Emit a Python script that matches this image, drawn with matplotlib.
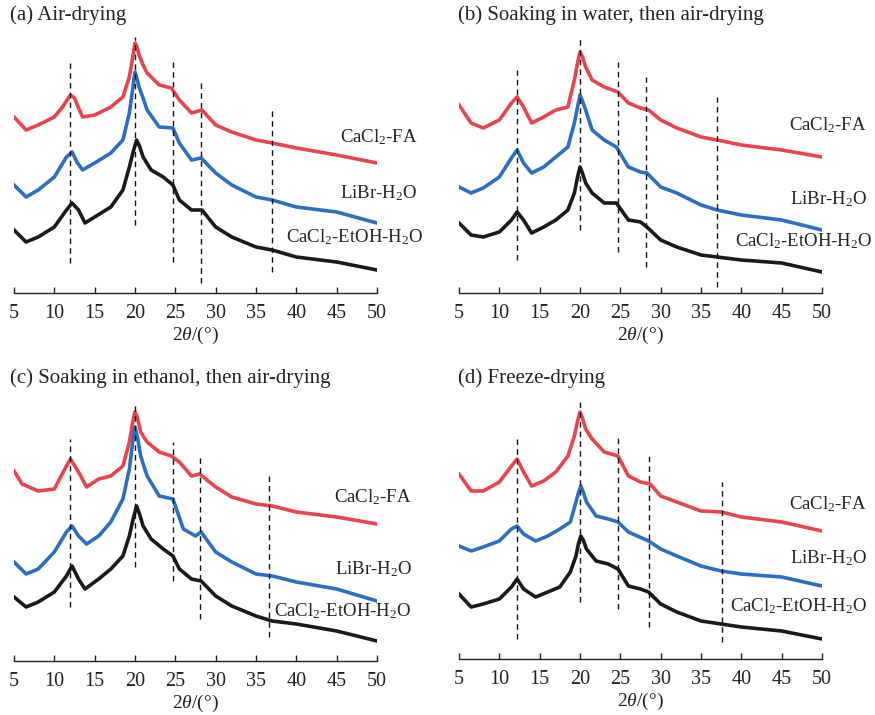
import matplotlib
matplotlib.use("Agg")
import matplotlib.pyplot as plt

plt.rcParams['font.family'] = ['Liberation Serif', 'DejaVu Serif']
plt.rcParams['mathtext.fontset'] = 'custom'
plt.rcParams['mathtext.rm'] = 'Liberation Serif'
plt.rcParams['mathtext.it'] = 'Liberation Serif:italic'

# ---------------- data (intensity, arbitrary units, offset-stacked) ----------------
titles = ["(a) Air-drying", "(b) Soaking in water, then air-drying",
          "(c) Soaking in ethanol, then air-drying", "(d) Freeze-drying"]
series_names = ["CaCl$_2$-FA", "LiBr-H$_2$O", "CaCl$_2$-EtOH-H$_2$O"]
series_colors = ["#E8444F", "#2C6FBF", "#1A1A1A"]
xticks = [5, 10, 15, 20, 25, 30, 35, 40, 45, 50]

# panel (a)
a_x_fa = [5, 6.5, 8, 10, 11, 11.5, 12, 12.5, 13, 13.5, 15, 17, 18.5, 19.3, 19.7, 20, 20.2, 20.5, 21, 21.5, 23, 24.5, 25.5, 27, 28.3, 30, 32, 35, 37, 40, 45, 50]
a_fa = [176, 163, 168, 176, 186, 192, 198, 195, 185, 176, 178, 186, 196, 216, 235, 250, 247, 238, 228, 220, 208, 205, 193, 180, 183, 168, 161, 153, 150, 145, 138, 130]
a_x_li = [5, 6.5, 8, 10, 11.5, 12.2, 12.8, 13.5, 15, 17, 18.5, 19.3, 19.7, 20, 20.2, 20.5, 21, 21.5, 23, 24.7, 25.5, 27, 28.2, 30, 32, 35, 37, 40, 45, 50]
a_li = [108, 96, 103, 116, 136, 141, 131, 123, 130, 140, 153, 180, 203, 221, 216, 206, 195, 183, 166, 165, 150, 133, 135, 120, 108, 96, 93, 86, 81, 70]
a_x_et = [5, 6.5, 8, 10, 11.5, 12.2, 13, 13.8, 15, 17, 18.5, 19.3, 19.8, 20.2, 20.6, 21, 22, 23.5, 24.7, 25.5, 27, 28.3, 30, 32, 35, 37, 40, 45, 50]
a_et = [63, 51, 56, 66, 83, 90, 83, 70, 76, 86, 103, 126, 142, 153, 146, 136, 123, 116, 108, 93, 83, 83, 66, 56, 46, 43, 36, 31, 23]
a_ref_x = [12, 20, 24.7, 28.2, 37]
a_ref_top = [231, 256, 233, 211, 186]
a_ref_bot = [30, 68, 31, 10, 21]
a_lab_x = [55.0, 55.0, 55.7]
a_lab_y = [156, 100, 56]

# panel (b)
b_x_fa = [5, 6.5, 8, 10, 11.5, 12.2, 13, 14, 15.5, 17, 18.5, 19.3, 19.7, 20, 20.3, 20.7, 21.5, 23, 24.7, 26, 27.5, 28.5, 30, 32, 35, 37, 40, 45, 50]
b_fa = [188, 170, 165, 173, 190, 196, 186, 170, 176, 183, 186, 213, 230, 241, 236, 226, 213, 206, 201, 190, 185, 183, 173, 165, 156, 153, 148, 143, 136]
b_x_li = [5, 6.5, 8, 10, 11.5, 12.2, 13, 14, 15.5, 17, 18.5, 19.3, 19.7, 20, 20.3, 20.7, 21.5, 23, 24.5, 26, 27.5, 28.3, 30, 32, 35, 37, 40, 45, 50]
b_li = [106, 100, 105, 116, 135, 143, 130, 120, 126, 136, 146, 170, 186, 198, 192, 183, 163, 153, 146, 126, 121, 120, 106, 100, 88, 83, 78, 73, 63]
b_x_et = [5, 6.5, 8, 10, 11.5, 12.2, 13, 14, 15.5, 17, 18.5, 19.3, 19.7, 20, 20.3, 20.7, 21.5, 23, 24.5, 26, 27.5, 28.3, 30, 32, 35, 37, 40, 45, 50]
b_et = [70, 58, 56, 61, 73, 81, 73, 60, 66, 73, 83, 100, 116, 126, 120, 110, 100, 90, 90, 73, 71, 66, 53, 46, 38, 36, 33, 30, 21]
b_ref_x = [12.2, 20, 24.7, 28.2, 37]
b_ref_top = [223, 255, 231, 216, 196]
b_ref_bot = [33, 63, 41, 26, 6]
b_lab_x = [55.6, 55.6, 56.3]
b_lab_y = [168, 94, 52]

# panel (c)
c_x_fa = [5, 6, 8, 10, 11.3, 12, 13, 14, 15.5, 17, 18.5, 19.3, 19.7, 20, 20.3, 20.7, 21.5, 23, 24.5, 25.5, 27, 28, 30, 32, 35, 37, 40, 45, 50]
c_fa = [190, 177, 170, 172, 192, 202, 189, 174, 182, 185, 195, 219, 238, 249, 243, 229, 219, 209, 205, 199, 185, 187, 174, 164, 157, 155, 149, 144, 137]
c_x_li = [5, 6.5, 8, 10, 11.5, 12.2, 13, 14, 15.5, 17, 18.5, 19.3, 19.7, 20, 20.3, 20.7, 21.5, 23, 24.7, 26, 27.5, 28.2, 30, 32, 35, 37, 40, 45, 50]
c_li = [99, 87, 92, 109, 129, 135, 125, 117, 125, 139, 162, 192, 218, 234, 224, 205, 185, 165, 162, 132, 125, 129, 109, 99, 87, 85, 79, 72, 60]
c_x_et = [5, 6.5, 8, 10, 11.5, 12.2, 13, 13.8, 15.5, 17, 18.5, 19.3, 19.8, 20.2, 20.6, 21, 22, 23.5, 24.7, 25.5, 27, 28.2, 30, 32, 35, 37, 40, 45, 50]
c_et = [64, 54, 59, 69, 85, 95, 82, 72, 82, 92, 105, 125, 143, 155, 146, 135, 122, 112, 105, 92, 82, 80, 65, 55, 45, 40, 37, 30, 20]
c_ref_x = [12, 20, 24.7, 28.1, 36.6]
c_ref_top = [222, 255, 219, 204, 185]
c_ref_bot = [54, 94, 80, 42, 24]
c_lab_x = [54.3, 54.3, 54.3]
c_lab_y = [164, 92, 50]

# panel (d)
d_x_fa = [5, 6.5, 8, 10, 11.5, 12.2, 13, 14, 15.5, 17, 18.5, 19.3, 19.7, 20, 20.3, 20.7, 21.5, 23, 24.7, 26, 27.5, 28.7, 30, 32, 35, 37.5, 40, 45, 50]
d_fa = [185, 168, 168, 177, 193, 200, 187, 173, 178, 187, 203, 223, 238, 247, 241, 230, 220, 207, 203, 183, 177, 175, 163, 157, 148, 147, 142, 137, 128]
d_x_li = [5, 6.5, 8, 10, 11.5, 12.2, 13, 14.5, 16, 17.5, 18.8, 19.5, 19.8, 20.1, 20.4, 20.8, 22, 23.5, 24.7, 26, 28.5, 30, 32, 35, 37.5, 40, 45, 50]
d_li = [113, 108, 112, 118, 130, 133, 125, 118, 123, 130, 137, 157, 166, 173, 167, 157, 143, 140, 137, 127, 118, 110, 103, 93, 88, 85, 82, 73]
d_x_et = [5, 6.5, 8, 10, 11.5, 12.2, 13, 14.5, 16, 17.5, 18.8, 19.5, 19.8, 20.1, 20.4, 20.8, 22, 23.5, 24.7, 26, 27.5, 28.5, 30, 32, 35, 37.5, 40, 45, 50]
d_et = [65, 52, 55, 60, 72, 80, 70, 62, 67, 72, 87, 103, 115, 123, 119, 110, 98, 95, 90, 73, 70, 67, 55, 47, 38, 35, 32, 28, 20]
d_ref_x = [12.2, 20, 24.7, 28.6, 37.6]
d_ref_top = [223, 260, 222, 203, 177]
d_ref_bot = [20, 57, 50, 32, 17]
d_lab_x = [55.6, 55.6, 55.6]
d_lab_y = [155, 101, 53]

panels = [
    ([a_x_fa, a_x_li, a_x_et], [a_fa, a_li, a_et], a_ref_x, a_ref_top, a_ref_bot, a_lab_x, a_lab_y),
    ([b_x_fa, b_x_li, b_x_et], [b_fa, b_li, b_et], b_ref_x, b_ref_top, b_ref_bot, b_lab_x, b_lab_y),
    ([c_x_fa, c_x_li, c_x_et], [c_fa, c_li, c_et], c_ref_x, c_ref_top, c_ref_bot, c_lab_x, c_lab_y),
    ([d_x_fa, d_x_li, d_x_et], [d_fa, d_li, d_et], d_ref_x, d_ref_top, d_ref_bot, d_lab_x, d_lab_y),
]

# ---------------- layout ----------------
W, H = 875, 715
fig = plt.figure(figsize=(W / 100, H / 100), dpi=100)
# (left px, axis-line px) for each panel
geom = [(14, 293), (459, 293), (14, 661), (459, 659)]
title_pos = [(10, 15), (458, 15), (10, 378), (458, 378)]
ax_w_px = 363
ymax = 270

for i, (xs, ys, rx, rtop, rbot, lx, ly) in enumerate(panels):
    left, base = geom[i]
    ax = fig.add_axes([left / W, 1 - base / H, ax_w_px / W, ymax / H])
    for k in range(3):
        ax.plot(xs[k], ys[k], color=series_colors[k], lw=2.6, solid_joinstyle='round', zorder=3)
        ax.text(lx[k], ly[k], series_names[k], ha='right', va='center',
                fontsize=13.5, color='#222222', clip_on=False, zorder=5)
    ax.vlines(rx, rbot, rtop, colors='#111111', linestyles=(0, (4, 3)), lw=1.0, zorder=4)
    ax.set_xlim(5, 50)
    ax.set_ylim(0, ymax)
    for s in ['top', 'right', 'left']:
        ax.spines[s].set_visible(False)
    ax.spines['bottom'].set_linewidth(1.0)
    ax.spines['bottom'].set_color('#222222')
    ax.set_yticks([])
    ax.set_xticks(xticks)
    ax.tick_params(axis='x', direction='in', length=4, width=1.0, pad=8,
                   labelsize=14.5, colors='#222222')
    ax.set_xlabel(r"2$\it{\theta}$/(°)", fontsize=14, labelpad=1.5, color='#222222')
    tx, ty = title_pos[i]
    fig.text(tx / W, 1 - ty / H, titles[i], ha='left', va='center', fontsize=15, color='#222222')

fig.savefig("out.png", dpi=100)
